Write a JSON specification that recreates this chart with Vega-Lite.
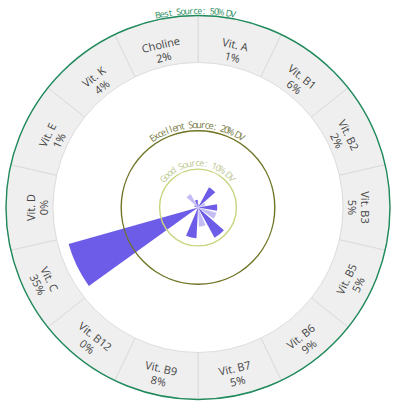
{
  "$schema": "https://vega.github.io/schema/vega-lite/v6.json",
  "width": 400,
  "height": 408,
  "autosize": {"type": "fit", "contains": "padding"},
  "padding": {"left": 0, "right": 4, "top": 7, "bottom": 0},
  "background": "white",
  "config": {"view": {"stroke": null}},
  "datasets": {
    "vit": [
      {"name": "Vit. A", "dv": 1},
      {"name": "Vit. B1", "dv": 6},
      {"name": "Vit. B2", "dv": 2},
      {"name": "Vit. B3", "dv": 5},
      {"name": "Vit. B5", "dv": 5},
      {"name": "Vit. B6", "dv": 9},
      {"name": "Vit. B7", "dv": 5},
      {"name": "Vit. B9", "dv": 8},
      {"name": "Vit. B12", "dv": 0},
      {"name": "Vit. C", "dv": 35},
      {"name": "Vit. D", "dv": 0},
      {"name": "Vit. E", "dv": 1},
      {"name": "Vit. K", "dv": 4},
      {"name": "Choline", "dv": 2}
    ],
    "levels": [
      {"level": "Good Source: 10% DV", "dv": 10},
      {"level": "Excellent Source: 20% DV", "dv": 20},
      {"level": "Best Source: 50% DV", "dv": 50}
    ]
  },
  "layer": [
    {
      "data": {"name": "vit"},
      "mark": {"type": "arc", "radius": 192, "radius2": 145, "fill": "#efefef", "stroke": "#dcdcdc", "strokeWidth": 1},
      "encoding": {
        "theta": {"field": "name", "type": "nominal", "scale": {"domain": ["Vit. A", "Vit. B1", "Vit. B2", "Vit. B3", "Vit. B5", "Vit. B6", "Vit. B7", "Vit. B9", "Vit. B12", "Vit. C", "Vit. D", "Vit. E", "Vit. K", "Choline"]}}
      }
    },
    {
      "data": {"name": "vit"},
      "transform": [
        {"window": [{"op": "row_number", "as": "idx"}]},
        {"calculate": "(2 * datum.idx - 1) * 180 / 14", "as": "deg"},
        {"calculate": "datum.deg > 90 && datum.deg < 270 ? datum.deg + 180 : datum.deg", "as": "rot"},
        {"calculate": "datum.name + '\\n' + datum.dv + '%'", "as": "label"}
      ],
      "mark": {"type": "text", "radius": 166, "font": "Open Sans", "fontSize": 11, "color": "#444444", "lineBreak": "\n", "lineHeight": 13, "align": "center", "baseline": "middle"},
      "encoding": {
        "theta": {"field": "idx", "type": "quantitative", "stack": false, "scale": {"domain": [0.5, 14.5], "range": [0, 6.283185307179586]}},
        "angle": {"field": "rot", "type": "quantitative", "scale": null},
        "text": {"field": "label"}
      }
    },
    {
      "data": {"name": "vit"},
      "mark": {"type": "arc", "padAngle": 0.1},
      "encoding": {
        "theta": {"field": "name", "type": "nominal", "scale": {"domain": ["Vit. A", "Vit. B1", "Vit. B2", "Vit. B3", "Vit. B5", "Vit. B6", "Vit. B7", "Vit. B9", "Vit. B12", "Vit. C", "Vit. D", "Vit. E", "Vit. K", "Choline"]}},
        "radius": {"field": "dv", "type": "quantitative", "stack": false, "scale": {"domain": [0, 50], "range": [0, 192]}},
        "color": {
          "field": "name",
          "type": "nominal",
          "legend": null,
          "scale": {
            "domain": ["Vit. A", "Vit. B1", "Vit. B2", "Vit. B3", "Vit. B5", "Vit. B6", "Vit. B7", "Vit. B9", "Vit. B12", "Vit. C", "Vit. D", "Vit. E", "Vit. K", "Choline"],
            "range": ["#c4bdf5", "#6c5ce7", "#c4bdf5", "#6c5ce7", "#c4bdf5", "#6c5ce7", "#c4bdf5", "#6c5ce7", "#c4bdf5", "#6c5ce7", "#c4bdf5", "#6c5ce7", "#c4bdf5", "#6c5ce7"]
          }
        }
      }
    },
    {
      "data": {"name": "levels"},
      "mark": {"type": "arc", "theta": 0, "theta2": 6.2832, "fill": "transparent", "strokeWidth": 1.4},
      "encoding": {
        "radius": {"field": "dv", "type": "quantitative", "stack": false, "scale": {"domain": [0, 50], "range": [0, 192]}},
        "stroke": {
          "field": "level",
          "type": "nominal",
          "legend": null,
          "scale": {"domain": ["Good Source: 10% DV", "Excellent Source: 20% DV", "Best Source: 50% DV"], "range": ["#c9d47e", "#6f7424", "#1f8a5b"]}
        }
      }
    },
    {
      "data": {"name": "levels"},
      "transform": [
        {"filter": "datum.dv == 50"},
        {"calculate": "split(datum.level, '')", "as": "ch"},
        {"flatten": ["ch"]},
        {"window": [{"op": "row_number", "as": "k"}]}
      ],
      "mark": {"type": "text", "radius": 196.5, "font": "Open Sans", "fontSize": 9, "color": "#2a8c5e", "align": "center", "baseline": "middle"},
      "encoding": {
        "theta": {"field": "k", "type": "quantitative", "stack": false, "scale": {"domain": [1, 19], "range": [-0.205, 0.18]}},
        "angle": {"field": "k", "type": "quantitative", "scale": {"domain": [1, 19], "range": [-11.7, 10.3]}},
        "text": {"field": "ch"}
      }
    },
    {
      "data": {"name": "levels"},
      "transform": [
        {"filter": "datum.dv == 20"},
        {"calculate": "split(datum.level, '')", "as": "ch"},
        {"flatten": ["ch"]},
        {"window": [{"op": "row_number", "as": "k"}]}
      ],
      "mark": {"type": "text", "radius": 82.5, "font": "Open Sans", "fontSize": 9.5, "color": "#777a45", "align": "center", "baseline": "middle"},
      "encoding": {
        "theta": {"field": "k", "type": "quantitative", "stack": false, "scale": {"domain": [1, 24], "range": [-0.58, 0.555]}},
        "angle": {"field": "k", "type": "quantitative", "scale": {"domain": [1, 24], "range": [-33.2, 31.8]}},
        "text": {"field": "ch"}
      }
    },
    {
      "data": {"name": "levels"},
      "transform": [
        {"filter": "datum.dv == 10"},
        {"calculate": "split(datum.level, '')", "as": "ch"},
        {"flatten": ["ch"]},
        {"window": [{"op": "row_number", "as": "k"}]}
      ],
      "mark": {"type": "text", "radius": 44.5, "font": "Open Sans", "fontSize": 9, "color": "#bcc792", "align": "center", "baseline": "middle"},
      "encoding": {
        "theta": {"field": "k", "type": "quantitative", "stack": false, "scale": {"domain": [1, 19], "range": [-0.88, 0.86]}},
        "angle": {"field": "k", "type": "quantitative", "scale": {"domain": [1, 19], "range": [-50.4, 49.3]}},
        "text": {"field": "ch"}
      }
    }
  ],
  "resolve": {"scale": {"theta": "independent", "radius": "independent", "angle": "independent", "color": "independent", "stroke": "independent"}}
}
